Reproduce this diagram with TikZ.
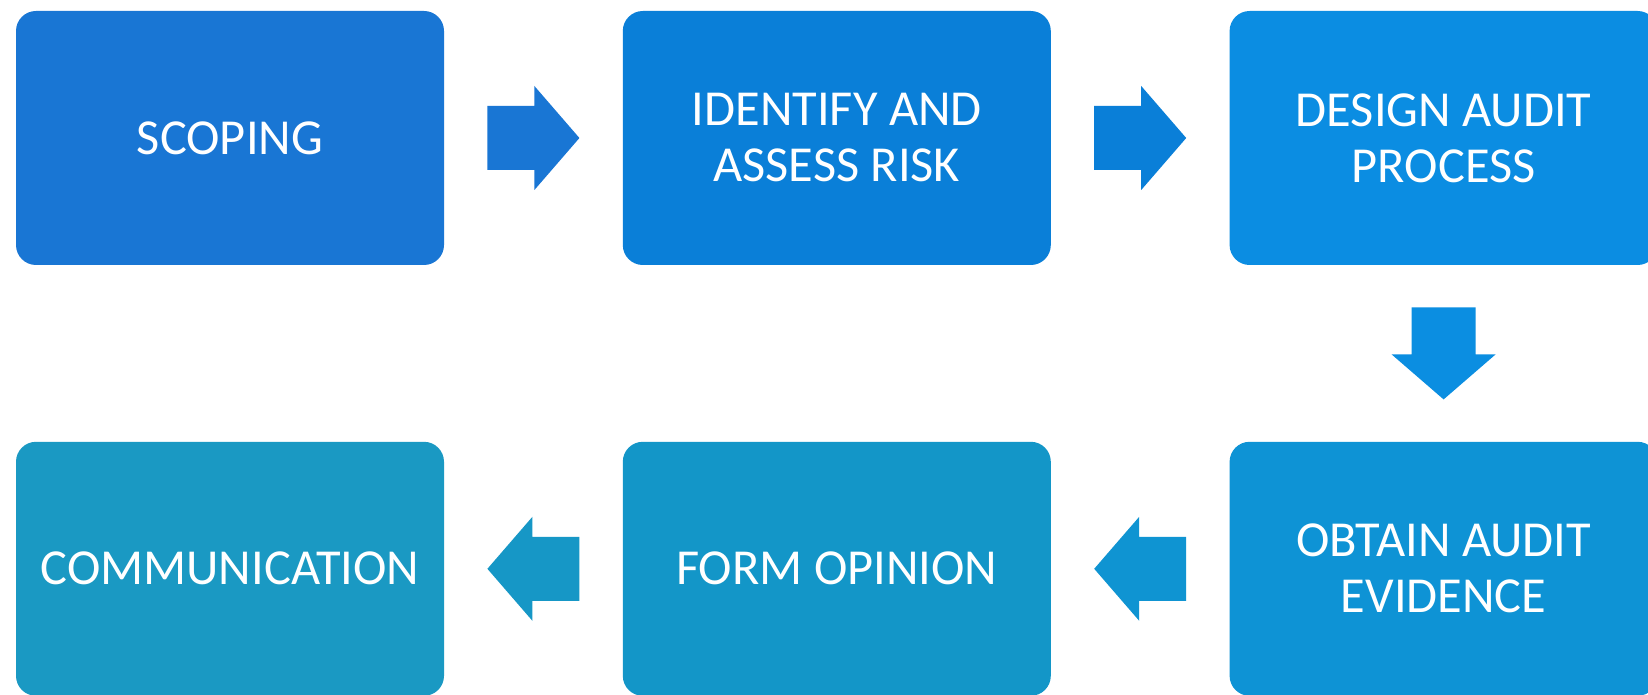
\documentclass[tikz,border=0pt]{standalone}
\usepackage{fontspec}
\setmainfont{Carlito}
\usepackage{tikz}
\usetikzlibrary{positioning,calc}

\definecolor{scopeblue}{HTML}{1976D4}
\definecolor{riskblue}{HTML}{0A7FD8}
\definecolor{designblue}{HTML}{0B8DE2}
\definecolor{evidblue}{HTML}{0E93D5}
\definecolor{opinblue}{HTML}{1396C8}
\definecolor{commblue}{HTML}{1A99C3}

\tikzset{
  stage/.style={rounded corners=10pt, inner sep=0pt, align=center,
    minimum width=214pt, minimum height=127pt, text=white,
    font=\fontsize{25.2}{28}\selectfont},
  blockarrow/.pic={
    \fill (-46,-32) -- (1,-32) -- (1,-52) -- (46,0) -- (1,52) -- (1,32) -- (-46,32) -- cycle;
  }
}

\begin{document}
\begin{tikzpicture}[x=0.5pt,y=-0.5pt]
  \fill[white] (0,0) rectangle (1648,695);
  \clip (0,0) rectangle (1648,695);

  % upper row, left to right
  \node[stage, fill=scopeblue] (scoping) at (230,138) {SCOPING};
  \node[stage, fill=riskblue, right=89pt of scoping] (identify) {IDENTIFY AND\\ASSESS RISK};
  \node[stage, fill=designblue, right=89pt of identify] (design) {DESIGN AUDIT\\PROCESS};
  % lower row, right to left
  \node[stage, fill=evidblue, below=88pt of design] (obtain) {OBTAIN AUDIT\\EVIDENCE};
  \node[stage, fill=opinblue, left=89pt of obtain] (form) {FORM OPINION};
  \node[stage, fill=commblue, left=89pt of form] (communication) {COMMUNICATION};

  \pic[fill=scopeblue] at ($(scoping.east)!0.5!(identify.west)$) {blockarrow};
  \pic[fill=riskblue] at ($(identify.east)!0.5!(design.west)$) {blockarrow};
  \pic[fill=designblue!90!evidblue, rotate=-90] at ($(design.south)!0.5!(obtain.north)$) {blockarrow};
  \pic[fill=evidblue!80!opinblue, rotate=180] at ($(obtain.west)!0.5!(form.east)$) {blockarrow};
  \pic[fill=opinblue!60!commblue, rotate=180] at ($(form.west)!0.5!(communication.east)$) {blockarrow};
\end{tikzpicture}
\end{document}
